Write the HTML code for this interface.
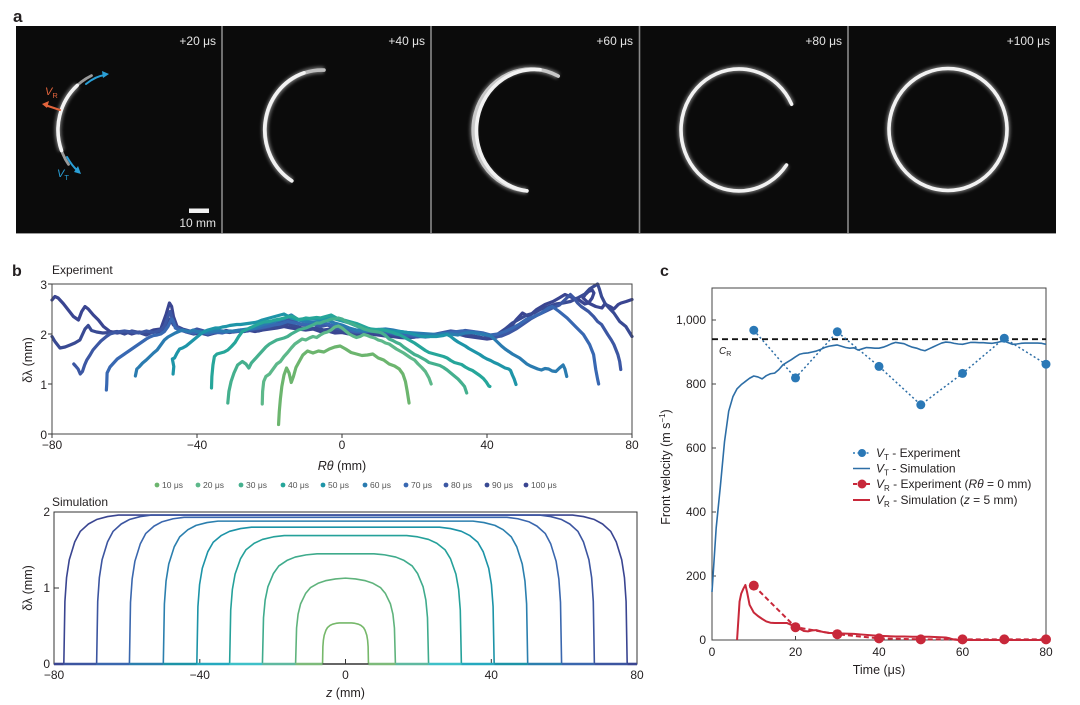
<!DOCTYPE html>
<html><head><meta charset="utf-8"><style>
html,body{margin:0;padding:0;background:#fff}
svg{display:block}
text{font-family:"Liberation Sans",Arial,sans-serif;fill:#231f20}
.e{fill:none;stroke-width:3.2;stroke-linejoin:round;stroke-linecap:round;vector-effect:non-scaling-stroke}
.s{fill:none;stroke-width:1.6;stroke-linejoin:round;vector-effect:non-scaling-stroke}
.b{fill:none;stroke-width:2.6;vector-effect:non-scaling-stroke}
.ns{vector-effect:non-scaling-stroke}
</style></head><body>
<svg width="1080" height="705" viewBox="0 0 1080 705" xmlns="http://www.w3.org/2000/svg">
<defs>
<filter id="gl" x="-20%" y="-20%" width="140%" height="140%"><feGaussianBlur stdDeviation="1.6"/></filter>
</defs>
<rect width="1080" height="705" fill="#fff"/>

<!-- ===== Panel a ===== -->
<text x="13" y="22" font-size="17" font-weight="bold">a</text>
<rect x="16" y="26" width="1040" height="208" fill="#0b0b0b"/>
<g stroke="#8a8a8a" stroke-width="1.6">
<line x1="222" y1="26" x2="222" y2="234"/><line x1="431" y1="26" x2="431" y2="234"/>
<line x1="639.5" y1="26" x2="639.5" y2="234"/><line x1="848" y1="26" x2="848" y2="234"/>
</g>
<line x1="16" y1="233.5" x2="1056" y2="233.5" stroke="#9a9a9a" stroke-width="1"/>
<g font-size="12" text-anchor="end">
<text x="216" y="45" style="fill:#e4e4e4">+20 μs</text>
<text x="425" y="45" style="fill:#e4e4e4">+40 μs</text>
<text x="633" y="45" style="fill:#e4e4e4">+60 μs</text>
<text x="842" y="45" style="fill:#e4e4e4">+80 μs</text>
<text x="1050" y="45" style="fill:#e4e4e4">+100 μs</text>
<text x="216" y="227" style="fill:#e4e4e4">10 mm</text>
</g>
<rect x="189" y="208.5" width="20" height="4.5" fill="#f2f2f2"/>
<!-- rings: glow -->
<g fill="none" stroke="#ffffff" stroke-width="6.5" opacity="0.4" filter="url(#gl)">
<path d="M61.5,150.5 A58,60 0 0 1 77.2,85.4"/>
<path d="M291.8,180.9 A57,60 0 0 1 324,70.1"/>
<path d="M526.9,190.9 A58,61 0 1 1 558.2,76.1"/>
<path d="M786.5,165 A58,61 0 1 1 791.6,104.2"/>
<ellipse cx="948" cy="129.5" rx="59" ry="61"/>
</g>
<g fill="none" stroke="#f2f2f2" stroke-width="3.6" stroke-linecap="round">
<path d="M68.5,164.4 A58,60 0 0 1 91.5,75.6" stroke="#9a9a9a" stroke-width="2.8"/>
<path d="M61.5,150.5 A58,60 0 0 1 77.2,85.4"/>
<path d="M291.8,180.9 A57,60 0 0 1 324,70.1" stroke="#bdbdbd"/>
<path d="M291.8,180.9 A57,60 0 0 1 304,72.8"/>
<path d="M526.9,190.9 A58,61 0 1 1 558.2,76.1" stroke="#c8c8c8"/>
<path d="M526.9,190.9 A58,61 0 0 1 540,69.7"/>
<path d="M786.5,165 A58,61 0 1 1 791.6,104.2"/>
<ellipse cx="948" cy="129.5" rx="59" ry="61"/>
</g>
<!-- arrows panel 1 -->
<g fill="none" stroke-width="2" stroke-linecap="round">
<path d="M86,84 Q96,76 105,75" stroke="#2a9fd6"/>
<path d="M67,157 Q72,166 78,171" stroke="#2a9fd6"/>
<path d="M60,110 L45,105" stroke="#e2643c"/>
</g>
<polygon points="109,74 102,71 103,78" fill="#2a9fd6"/>
<polygon points="81,174 78,166 74,172" fill="#2a9fd6"/>
<polygon points="42,104 49,101 47,108" fill="#e2643c"/>
<text x="45" y="95" font-size="11" font-style="italic" style="fill:#e2643c">V<tspan font-size="7.5" font-style="normal" dy="3" style="fill:#e2643c">R</tspan></text>
<text x="57" y="177" font-size="11" font-style="italic" style="fill:#2a9fd6">V<tspan font-size="7.5" font-style="normal" dy="3" style="fill:#2a9fd6">T</tspan></text>

<!-- ===== Panel b (Experiment) ===== -->
<text x="12" y="276" font-size="16" font-weight="bold">b</text>
<text x="52" y="274" font-size="12">Experiment</text>
<g font-size="12" text-anchor="end">
<text x="47" y="289">3</text><text x="47" y="339">2</text><text x="47" y="389">1</text><text x="47" y="439">0</text>
</g>
<g font-size="12" text-anchor="middle">
<text x="52" y="449">−80</text><text x="197" y="449">−40</text><text x="342" y="449">0</text><text x="487" y="449">40</text><text x="632" y="449">80</text>
</g>
<text x="342" y="470" font-size="12.5" text-anchor="middle"><tspan font-style="italic">Rθ</tspan> (mm)</text>
<text transform="translate(32,360) rotate(-90)" font-size="12.5" text-anchor="middle">δλ (mm)</text>
<g stroke="#333" stroke-width="1">
<line x1="48" y1="284" x2="52" y2="284"/><line x1="48" y1="334" x2="52" y2="334"/><line x1="48" y1="384" x2="52" y2="384"/><line x1="48" y1="434" x2="52" y2="434"/>
<line x1="52" y1="434" x2="52" y2="438"/><line x1="197" y1="434" x2="197" y2="438"/><line x1="342" y1="434" x2="342" y2="438"/><line x1="487" y1="434" x2="487" y2="438"/><line x1="632" y1="434" x2="632" y2="438"/>
</g>
<g transform="translate(342,434) scale(3.625,-50)">
<polyline class="e" stroke="#3a4591" points="-80,2.68 -79.2,2.75 -78.3,2.72 -76.9,2.61 -75.5,2.48 -74.1,2.35 -72.7,2.28 -71.8,2.45 -70.9,2.55 -70,2.5 -68.6,2.38 -67.2,2.28 -65.8,2.15 -64,2.05 -62,2.02 -60,2.05 -58,2 -56,2.04 -54,2.02 -52,2.08 -50,2.1 -48.5,2.4 -47.6,2.62 -47,2.55 -46.5,2.35 -45.5,2.15 -44,2.1 -42,2.06 -40,2.04 -38,2 -36,2.05 -34,2.03 -32,2.07 -30,2.04 -28,2.06 -26,2.08 -24,2.05 -22,2.08 -20,2.1 -18,2.12 -16,2.15 -14,2.12 -12,2.1 -10,2.08 -8,2.1 -6,2.05 -4,2.06 -2,2.02 0,2.03 2,2 4,1.98 6,2.02 8,2 10,1.98 12,1.96 14,1.95 16,1.93 18,1.92 20,1.94 22,1.96 24,1.95 26,1.97 28,2 30,2.02 32,2 34,1.96 36,1.94 38,1.92 40,1.9 42,1.92 44,1.98 46,2.08 48,2.28 49.8,2.42 51.5,2.35 53.7,2.49 56,2.59 58.2,2.65 59.9,2.72 61.5,2.79 63.8,2.72 65,2.7 66,2.65 67,2.6 68,2.62 69,2.72 69.5,2.82 69,2.88 68,2.85 67,2.78 66.5,2.72 68,2.62 70,2.55 71.7,2.52 72.5,2.6 73.9,2.55 75,2.5 76.2,2.59 77,2.62 78.4,2.65 80,2.69"/>
<polyline class="e" stroke="#394a93" points="-80,1.95 -79.2,1.85 -77.8,1.72 -76.4,1.74 -75,1.78 -73.7,1.82 -72.3,1.88 -70.9,2.1 -70,2.17 -69.1,2.07 -67.7,2.04 -66,2.02 -64,2.03 -62,2.05 -60,2 -58,2.06 -56,2.03 -54,1.98 -52,2.05 -50,2.02 -48,2.2 -47.4,2.3 -46.5,2.18 -45,2.1 -43,2.04 -41,2 -39,2.02 -37,1.98 -35,2.02 -33,2.05 -31,2.03 -29,2.06 -27,2.05 -25,2.08 -23,2.06 -21,2.1 -19,2.13 -17,2.15 -15,2.2 -13,2.16 -11,2.12 -9,2.1 -7,2.12 -5,2.08 -3,2.1 -1,2.06 1,2.04 3,2 5,2.02 7,2.05 9,2.02 11,2 13,1.98 15,1.97 17,1.95 19,1.93 21,1.95 23,1.98 25,1.96 27,1.98 29,2 31,2.02 33,2 35,1.98 37,1.95 39,1.92 41,1.95 43,2 45,2.1 47,2.22 49,2.3 51,2.38 53,2.42 55,2.5 57,2.55 59,2.6 61,2.62 63,2.65 65,2.72 67,2.8 68.3,2.9 69.4,2.95 70.5,3 71,2.9 71.6,2.75 72.5,2.62 73.3,2.55 75,2.42 76.6,2.25 78.3,2.15 80,1.95"/>
<polyline class="e" stroke="#3c57a3" points="-74,1.4 -73.5,1.36 -72.8,1.3 -72.2,1.2 -71.6,1.25 -71,1.38 -70.4,1.48 -69.5,1.58 -68.7,1.68 -67.5,1.78 -66.5,1.86 -65,1.95 -64,2 -62,2.04 -60,2.06 -58,2.04 -56,2.02 -54,2.06 -52,2.03 -50,2.08 -49,2.15 -48,2.35 -47.4,2.45 -46.8,2.3 -46,2.15 -44,2.08 -42,2.05 -40,2.1 -38,2.06 -36,2.02 -34,2.06 -32,2.04 -30,2.05 -28,2.08 -26,2.06 -24,2.1 -22,2.12 -20,2.15 -18,2.2 -16,2.25 -14,2.3 -12,2.2 -10,2.18 -8,2.2 -6,2.15 -4,2.18 -2,2.12 0,2.1 2,2.06 4,2.03 6,2.05 8,2.08 10,2.05 12,2.02 14,2 16,1.98 18,1.96 20,1.94 22,1.95 24,1.97 26,2 28,2.03 30,2.06 32,2.04 34,2.07 36,2.05 38,2.02 40,1.97 42,1.94 44,1.96 46,2.02 48,2.1 50,2.2 52,2.3 54,2.38 56,2.45 58,2.52 60,2.58 62,2.72 63,2.79 64,2.72 65,2.62 66,2.55 67,2.5 68,2.45 69.4,2.35 70.5,2.25 71.6,2.19 73.3,1.99 74.3,1.88 75,1.79 76.1,1.59 76.6,1.45 76.9,1.29"/>
<polyline class="e" stroke="#3868b2" points="-65,0.88 -64.9,1 -64.8,1.22 -64,1.34 -63,1.42 -62,1.5 -61,1.55 -60,1.6 -59,1.65 -58,1.7 -57,1.75 -56,1.8 -55,1.85 -54,1.9 -53,1.94 -52,1.97 -51,1.98 -50,2 -49,2.05 -48,2.15 -47,2.3 -46.5,2.25 -46,2.12 -45,2.08 -43,2.05 -41,2.02 -39,2.05 -37,2 -35,2.04 -33,2.02 -31,2.06 -29,2.05 -27,2.08 -25,2.1 -23,2.12 -21,2.15 -19,2.18 -17,2.2 -15,2.25 -13,2.22 -11,2.2 -9,2.18 -7,2.2 -5,2.22 -3,2.18 -1,2.14 1,2.1 3,2.06 5,2.04 7,2.05 9,2.06 11,2.05 13,2.03 15,2 17,1.98 19,1.98 21,1.96 23,1.94 25,1.96 27,1.98 29,2.02 31,2.04 33,2.06 35,2.05 37,2.04 39,2.02 41,1.98 43,2 45,2.05 47,2.12 49,2.2 51,2.3 53,2.35 55,2.42 57,2.52 58,2.55 59.9,2.45 62.1,2.32 64.4,2.15 66.6,1.99 68.3,1.79 69.4,1.59 70,1.29 70.5,1.1 70.8,1"/>
<polyline class="e" stroke="#2a7bb0" points="-57,1.16 -56.6,1.3 -56,1.34 -55,1.42 -54,1.48 -53,1.55 -52,1.62 -51,1.68 -50,1.78 -49,1.88 -48,1.94 -47,1.98 -46,2.02 -45,2.05 -44,2.08 -43,2.06 -42,2.05 -41,2.08 -40,2.05 -38,2.03 -36,2.05 -34,2.07 -32,2.05 -30,2.06 -28,2.08 -26,2.1 -24,2.12 -22,2.18 -20,2.22 -18,2.26 -16,2.3 -15,2.35 -14,2.38 -13,2.33 -12,2.28 -10,2.25 -8,2.24 -6,2.25 -4,2.27 -2,2.22 0,2.18 2,2.12 4,2.08 6,2.06 8,2.07 10,2.09 12,2.1 14,2.08 16,2.05 18,2.03 20,2.02 22,2.01 24,2 26,1.99 28,2.01 30,2 32,1.98 34,2.02 36,2.03 38,2 40,1.98 41,1.96 42,1.9 43,1.83 44,1.76 45,1.7 46,1.65 47,1.6 48,1.56 49,1.52 50,1.46 51,1.4 52,1.36 53,1.33 54,1.3 55,1.28 56,1.31 57,1.3 58,1.26 59,1.25 60,1.32 61,1.38 61.5,1.3 62,1.15"/>
<polyline class="e" stroke="#1e95a8" points="-46.6,1.2 -46.4,1.35 -46.8,1.5 -46.2,1.52 -45.5,1.62 -44.8,1.7 -44,1.72 -43,1.76 -42,1.82 -41,1.88 -40,1.94 -39,2 -38,2.05 -37,2.08 -36,2.1 -35,2.12 -34,2.12 -33,2.14 -32,2.15 -31,2.17 -30,2.18 -29,2.19 -28,2.19 -27,2.2 -26,2.21 -25,2.22 -24,2.23 -23,2.25 -22,2.28 -21,2.3 -20,2.32 -19,2.34 -18,2.36 -17,2.38 -16,2.4 -15,2.36 -14,2.32 -13,2.3 -12,2.28 -10,2.3 -8,2.31 -6,2.3 -4,2.33 -3,2.35 -2,2.3 0,2.26 2,2.22 4,2.16 6,2.1 8,2.09 10,2.09 12,2.08 14,2.05 16,2.05 18,2.03 20,1.99 22,1.95 24,1.95 26,1.95 28,1.97 29,1.99 30,1.95 31,1.89 32,1.84 33,1.8 34,1.76 35,1.71 36,1.67 37,1.63 38,1.59 39,1.54 40,1.5 41,1.47 42,1.43 43,1.4 44,1.36 45,1.32 46,1.3 46.5,1.27 47,1.18 47.5,1.1 48,0.99"/>
<polyline class="e" stroke="#26a69a" points="-36,0.92 -35.9,1.15 -35.6,1.38 -35.2,1.55 -34.5,1.6 -33.5,1.62 -32.5,1.64 -31.5,1.68 -30.5,1.75 -29.5,1.83 -28.5,1.95 -27.5,2.05 -26.5,2.08 -25.5,2.12 -24.5,2.15 -23,2.2 -21.5,2.24 -20,2.25 -18.5,2.28 -17,2.3 -15.5,2.33 -14,2.36 -13,2.33 -12,2.29 -11,2.3 -10,2.32 -9,2.31 -8,2.32 -7,2.33 -6,2.32 -5,2.34 -4,2.36 -3,2.38 -2,2.34 -1,2.3 0,2.28 1,2.27 2,2.25 3,2.23 4,2.21 5,2.18 6,2.15 7,2.12 8,2.1 9,2.09 10,2.08 11,2.09 12,2.07 13,2.05 14,2.03 15,2 16,1.98 17,1.94 18,1.9 19,1.86 20,1.82 21,1.77 22,1.72 23,1.67 24,1.63 25,1.61 26,1.59 27,1.57 28,1.55 29,1.52 30,1.47 31,1.43 32,1.41 33,1.39 34,1.34 35,1.3 36,1.27 37,1.22 38,1.17 39,1.11 39.8,1.04 40.5,0.96 40.8,0.95"/>
<polyline class="e" stroke="#45b08e" points="-31.5,0.62 -31.2,0.85 -30.6,1.05 -29.8,1.22 -28.8,1.38 -27.5,1.45 -26.5,1.4 -25.7,1.32 -25,1.42 -24,1.5 -23,1.58 -22,1.66 -21,1.74 -20,1.8 -19,1.84 -18,1.88 -17,1.9 -16,1.92 -15,1.95 -14,2 -13,2.04 -12,2.08 -11,2.1 -10,2.12 -9,2.15 -8,2.18 -7,2.22 -6,2.22 -5,2.25 -4,2.27 -3,2.3 -2,2.3 -1,2.32 0,2.3 1,2.25 2,2.22 3,2.2 4,2.16 5,2.14 6,2.1 7,2.08 8,2.06 9,2.05 10,2.04 11,2.02 12,1.97 13,1.9 14,1.87 15,1.83 16,1.8 17,1.74 18,1.69 19,1.64 20,1.59 21,1.56 22,1.52 23,1.48 24,1.43 25,1.41 26,1.39 27,1.37 28,1.33 29,1.28 30,1.22 31,1.16 32,1.1 33,1.02 33.8,0.95 34.4,0.82"/>
<polyline class="e" stroke="#5db88a" points="-22,0.6 -21.9,0.85 -21.6,1.05 -21,1.15 -20,1.2 -19,1.3 -18,1.4 -17,1.45 -16,1.55 -15,1.63 -14,1.72 -13,1.8 -12,1.85 -11,1.9 -10,1.88 -9,1.92 -8,1.95 -7,1.93 -6,1.98 -5,2.02 -4,2.04 -3,2.08 -2,2.14 -1,2.16 0,2.12 1,2.06 2,2 3,1.96 4,1.93 5,1.95 6,1.99 7,1.97 8,1.94 9,1.92 10,1.88 11,1.86 12,1.82 13,1.8 14,1.75 15,1.7 16,1.66 17,1.62 18,1.57 19,1.52 20,1.48 21,1.4 22,1.33 23,1.25 24,1.12 24.6,1"/>
<polyline class="e" stroke="#6cb56e" points="-17.5,0.19 -17.3,0.45 -17,0.7 -16.6,0.95 -16,1.18 -15.3,1.32 -14.6,1.22 -14,1.03 -13.4,1.15 -12.7,1.33 -11.8,1.45 -10.8,1.58 -9.5,1.66 -8,1.62 -6.5,1.66 -5,1.64 -3.5,1.7 -2,1.74 -0.5,1.76 1,1.7 2.5,1.63 4,1.6 5.5,1.57 7,1.58 8.5,1.6 10,1.52 11.5,1.48 13,1.4 14.5,1.36 15.8,1.3 16.8,1.2 17.5,1.05 18,0.85 18.5,0.62"/>
</g>
<rect x="52" y="284" width="580" height="150" fill="none" stroke="#444" stroke-width="1"/>

<!-- legend row -->
<g font-size="8.5">
<circle cx="157" cy="485" r="2.4" fill="#6cb56e"/><text x="162" y="488" style="fill:#555">10 μs</text>
<circle cx="198" cy="485" r="2.4" fill="#5db88a"/><text x="203" y="488" style="fill:#555">20 μs</text>
<circle cx="241" cy="485" r="2.4" fill="#45b08e"/><text x="246" y="488" style="fill:#555">30 μs</text>
<circle cx="283" cy="485" r="2.4" fill="#26a69a"/><text x="288" y="488" style="fill:#555">40 μs</text>
<circle cx="323" cy="485" r="2.4" fill="#1e95a8"/><text x="328" y="488" style="fill:#555">50 μs</text>
<circle cx="365" cy="485" r="2.4" fill="#2a7bb0"/><text x="370" y="488" style="fill:#555">60 μs</text>
<circle cx="406" cy="485" r="2.4" fill="#3868b2"/><text x="411" y="488" style="fill:#555">70 μs</text>
<circle cx="446" cy="485" r="2.4" fill="#3c57a3"/><text x="451" y="488" style="fill:#555">80 μs</text>
<circle cx="487" cy="485" r="2.4" fill="#394a93"/><text x="492" y="488" style="fill:#555">90 μs</text>
<circle cx="526" cy="485" r="2.4" fill="#3a4591"/><text x="531" y="488" style="fill:#555">100 μs</text>
</g>

<!-- ===== Panel b (Simulation) ===== -->
<text x="52" y="506" font-size="12">Simulation</text>
<g font-size="12" text-anchor="end">
<text x="50" y="516">2</text><text x="50" y="592">1</text><text x="50" y="668">0</text>
</g>
<g font-size="12" text-anchor="middle">
<text x="54" y="679">−80</text><text x="199.8" y="679">−40</text><text x="345.5" y="679">0</text><text x="491.3" y="679">40</text><text x="637" y="679">80</text>
</g>
<text x="345.5" y="697" font-size="12.5" text-anchor="middle"><tspan font-style="italic">z</tspan> (mm)</text>
<text transform="translate(32,588) rotate(-90)" font-size="12.5" text-anchor="middle">δλ (mm)</text>
<rect x="54" y="512" width="583" height="152" fill="none" stroke="#333" stroke-width="1"/>
<g stroke="#333" stroke-width="1">
<line x1="54" y1="588" x2="59" y2="588"/><line x1="54" y1="512" x2="59" y2="512"/>
<line x1="199.8" y1="664" x2="199.8" y2="659"/><line x1="345.5" y1="664" x2="345.5" y2="659"/><line x1="491.3" y1="664" x2="491.3" y2="659"/>
</g>
<g transform="translate(345.5,664) scale(3.644,-76)">
<polyline class="s" stroke="#3a4591" points="-77.3,0 -77,0.823 -76.55,1.137 -75.8,1.372 -74.3,1.607 -72.8,1.744 -70.55,1.842 -68.3,1.901 -65.3,1.94 -62.3,1.96 62.3,1.96 65.3,1.94 68.3,1.901 70.55,1.842 72.8,1.744 74.3,1.607 75.8,1.372 76.55,1.137 77,0.823 77.3,0"/>
<polyline class="s" stroke="#3c55a0" points="-68.3,0 -68,0.823 -67.55,1.137 -66.8,1.372 -65.3,1.607 -63.8,1.744 -61.55,1.842 -59.3,1.901 -56.3,1.94 -53.3,1.96 53.3,1.96 56.3,1.94 59.3,1.901 61.55,1.842 63.8,1.744 65.3,1.607 66.8,1.372 67.55,1.137 68,0.823 68.3,0"/>
<polyline class="s" stroke="#3a67ae" points="-59.3,0 -59,0.811 -58.55,1.119 -57.8,1.351 -56.3,1.583 -54.8,1.718 -52.55,1.814 -50.3,1.872 -47.3,1.911 -44.3,1.93 44.3,1.93 47.3,1.911 50.3,1.872 52.55,1.814 54.8,1.718 56.3,1.583 57.8,1.351 58.55,1.119 59,0.811 59.3,0"/>
<polyline class="s" stroke="#2b7fae" points="-50,0 -49.7,0.79 -49.25,1.09 -48.5,1.316 -47,1.542 -45.5,1.673 -43.25,1.767 -41,1.824 -38,1.861 -35,1.88 35,1.88 38,1.861 41,1.824 43.25,1.767 45.5,1.673 47,1.542 48.5,1.316 49.25,1.09 49.7,0.79 50,0"/>
<polyline class="s" stroke="#1c93a7" points="-40.8,0 -40.5,0.756 -40.05,1.044 -39.3,1.26 -37.8,1.476 -36.3,1.602 -34.05,1.692 -31.8,1.746 -28.8,1.782 -25.8,1.8 25.8,1.8 28.8,1.782 31.8,1.746 34.05,1.692 36.3,1.602 37.8,1.476 39.3,1.26 40.05,1.044 40.5,0.756 40.8,0"/>
<polyline class="s" stroke="#25a19a" points="-31.8,0 -31.5,0.71 -31.05,0.98 -30.3,1.183 -28.8,1.386 -27.3,1.504 -25.05,1.589 -22.8,1.639 -19.8,1.673 -16.8,1.69 16.8,1.69 19.8,1.673 22.8,1.639 25.05,1.589 27.3,1.504 28.8,1.386 30.3,1.183 31.05,0.98 31.5,0.71 31.8,0"/>
<polyline class="s" stroke="#3fab8c" points="-22.8,0 -22.5,0.609 -22.05,0.841 -21.3,1.015 -19.8,1.189 -18.3,1.29 -16.05,1.363 -13.8,1.407 -10.8,1.436 -7.8,1.45 7.8,1.45 10.8,1.436 13.8,1.407 16.05,1.363 18.3,1.29 19.8,1.189 21.3,1.015 22.05,0.841 22.5,0.609 22.8,0"/>
<polyline class="s" stroke="#5fb37c" points="-13.7,0 -13.426,0.475 -13.015,0.655 -12.33,0.791 -10.96,0.927 -9.59,1.006 -7.535,1.062 -5.48,1.096 -2.74,1.119 0,1.13 2.74,1.119 5.48,1.096 7.535,1.062 9.59,1.006 10.96,0.927 12.33,0.791 13.015,0.655 13.426,0.475 13.7,0"/>
<polyline class="s" stroke="#76b86a" points="-6.3,0 -6.208,0.227 -6.07,0.313 -5.84,0.378 -5.38,0.443 -4.92,0.481 -4.23,0.508 -3.54,0.524 -2.62,0.535 -1.7,0.54 1.7,0.54 2.62,0.535 3.54,0.524 4.23,0.508 4.92,0.481 5.38,0.443 5.84,0.378 6.07,0.313 6.208,0.227 6.3,0"/>
<!-- baseline segments -->
<polyline class="b" stroke="#3a4591" points="-80,0 -77.3,0"/><polyline class="b" stroke="#3a4591" points="77.3,0 80,0"/>
<polyline class="b" stroke="#3c55a0" points="-77.3,0 -68.3,0"/><polyline class="b" stroke="#3c55a0" points="68.3,0 77.3,0"/>
<polyline class="b" stroke="#3a67ae" points="-68.3,0 -59.3,0"/><polyline class="b" stroke="#3a67ae" points="59.3,0 68.3,0"/>
<polyline class="b" stroke="#2b7fae" points="-59.3,0 -50,0"/><polyline class="b" stroke="#2b7fae" points="50,0 59.3,0"/>
<polyline class="b" stroke="#1c93a7" points="-50,0 -40.8,0"/><polyline class="b" stroke="#1c93a7" points="40.8,0 50,0"/>
<polyline class="b" stroke="#25a9bf" points="-40.8,0 -31.8,0"/><polyline class="b" stroke="#25a9bf" points="31.8,0 40.8,0"/>
<polyline class="b" stroke="#3ec0c8" points="-31.8,0 -22.8,0"/><polyline class="b" stroke="#3ec0c8" points="22.8,0 31.8,0"/>
<polyline class="b" stroke="#5fb9a0" points="-22.8,0 -13.7,0"/><polyline class="b" stroke="#5fb9a0" points="13.7,0 22.8,0"/>
<polyline class="b" stroke="#7dba7a" points="-13.7,0 -6.3,0"/><polyline class="b" stroke="#7dba7a" points="6.3,0 13.7,0"/>
<polyline class="b" stroke="#333" points="-6.3,0 6.3,0" style="stroke-width:1.6"/>
</g>

<!-- ===== Panel c ===== -->
<text x="660" y="276" font-size="16" font-weight="bold">c</text>
<rect x="712" y="288" width="334" height="352" fill="none" stroke="#444" stroke-width="1"/>
<g font-size="12" text-anchor="end">
<text x="706" y="644">0</text><text x="706" y="580">200</text><text x="706" y="516">400</text>
<text x="706" y="452">600</text><text x="706" y="388">800</text><text x="706" y="324">1,000</text>
</g>
<g font-size="12" text-anchor="middle">
<text x="712" y="656">0</text><text x="795.5" y="656">20</text><text x="879" y="656">40</text><text x="962.5" y="656">60</text><text x="1046" y="656">80</text>
</g>
<text x="879" y="674" font-size="12.5" text-anchor="middle">Time (μs)</text>
<text transform="translate(670,467) rotate(-90)" font-size="12.5" text-anchor="middle">Front velocity (m s<tspan font-size="8" dy="-5">−1</tspan><tspan dy="5">)</tspan></text>
<g stroke="#444" stroke-width="1">
<line x1="712" y1="640" x2="716" y2="640"/><line x1="712" y1="576" x2="716" y2="576"/><line x1="712" y1="512" x2="716" y2="512"/><line x1="712" y1="448" x2="716" y2="448"/><line x1="712" y1="384" x2="716" y2="384"/><line x1="712" y1="320" x2="716" y2="320"/>
<line x1="795.5" y1="640" x2="795.5" y2="636"/><line x1="879" y1="640" x2="879" y2="636"/><line x1="962.5" y1="640" x2="962.5" y2="636"/>
</g>
<line x1="712" y1="339.2" x2="1046" y2="339.2" stroke="#111" stroke-width="1.8" stroke-dasharray="6,4"/>
<text x="719" y="354" font-size="10" font-style="italic">C<tspan font-size="7" font-style="normal" dy="2">R</tspan></text>
<g transform="translate(712,640) scale(4.175,-0.32)">
<polyline class="ns" fill="none" stroke="#2d6ea6" stroke-width="1.6" stroke-linejoin="round" points="0,150 1,350 2,480 3,620 4,715 5,760 6,785 7,798 8,808 9,818 10,825 11,822 12,816 13,826 14,832 15,834 16,845 17,860 18,868 19,876 20,885 21,893 22,896 23,897 24,900 25,903 26,908 27,914 28,918 29,920 30,922 31,918 32,914 33,912 34,913 35,906 36,910 37,914 38,913 39,912 40,912 41,915 42,920 43,926 44,930 45,928 46,926 47,920 48,915 49,912 50,907 51,904 52,910 53,916 54,922 55,928 56,931 57,930 58,927 59,925 60,924 61,927 62,930 63,930 64,929 65,929 66,928 67,927 68,929 69,932 70,934 71,929 72,924 73,925 74,927 75,928 76,928 77,928 78,928 79,927 80,924"/>
<polyline class="ns" fill="none" stroke="#2d6ea6" stroke-width="1.5" stroke-dasharray="2,2.5" points="10,968 20,819 30,963 40,855 50,735 60,833 70,943 80,862"/>
<polyline class="ns" fill="none" stroke="#c8283a" stroke-width="2" stroke-linejoin="round" points="6,0 6.6,120 7,145 7.5,160 8,172 8.4,150 9,110 10,86 11,75 12,66 13,58 14,54 15,53 16,53 17,53 18,53 19,47 20,41 21,35 22,28 23,27 24,30 25,31 26,27 27,24 28,22 29,22 30,21 32,20 34,19 36,17 38,15 40,13 42,12 44,11 46,11 48,10 50,10 52,10 54,9 56,8 57,5 58,1 59,0 80,0"/>
<polyline class="ns" fill="none" stroke="#c8283a" stroke-width="2" stroke-dasharray="5,3" points="10,170 20,40 30,18 40,5 50,2 60,2 70,2 80,2"/>
</g>
<g fill="#2a78b6">
<circle cx="753.8" cy="330.2" r="4.5"/><circle cx="795.5" cy="377.9" r="4.5"/><circle cx="837.3" cy="331.8" r="4.5"/><circle cx="879" cy="366.4" r="4.5"/>
<circle cx="920.8" cy="404.8" r="4.5"/><circle cx="962.5" cy="373.4" r="4.5"/><circle cx="1004.3" cy="338.2" r="4.5"/><circle cx="1046" cy="364.2" r="4.5"/>
</g>
<g fill="#c8283a">
<circle cx="753.8" cy="585.6" r="5"/><circle cx="795.5" cy="627.2" r="5"/><circle cx="837.3" cy="634.2" r="5"/><circle cx="879" cy="638.4" r="5"/>
<circle cx="920.8" cy="639.4" r="5"/><circle cx="962.5" cy="639.4" r="5"/><circle cx="1004.3" cy="639.4" r="5"/><circle cx="1046" cy="639.4" r="5"/>
</g>
<!-- legend c -->
<line x1="853" y1="453" x2="870" y2="453" stroke="#2a78b6" stroke-width="1.5" stroke-dasharray="2,2.5"/><circle cx="862" cy="453" r="4" fill="#2a78b6"/>
<line x1="853" y1="468.5" x2="870" y2="468.5" stroke="#2d6ea6" stroke-width="1.6"/>
<line x1="853" y1="484" x2="870" y2="484" stroke="#c8283a" stroke-width="2" stroke-dasharray="4,2.5"/><circle cx="862" cy="484" r="4.5" fill="#c8283a"/>
<line x1="853" y1="500" x2="870" y2="500" stroke="#c8283a" stroke-width="2"/>
<g font-size="12">
<text x="876" y="457"><tspan font-style="italic">V</tspan><tspan font-size="8" dy="3">T</tspan><tspan dy="-3"> - Experiment</tspan></text>
<text x="876" y="472.5"><tspan font-style="italic">V</tspan><tspan font-size="8" dy="3">T</tspan><tspan dy="-3"> - Simulation</tspan></text>
<text x="876" y="488"><tspan font-style="italic">V</tspan><tspan font-size="8" dy="3">R</tspan><tspan dy="-3"> - Experiment (</tspan><tspan font-style="italic">Rθ</tspan><tspan> = 0 mm)</tspan></text>
<text x="876" y="504"><tspan font-style="italic">V</tspan><tspan font-size="8" dy="3">R</tspan><tspan dy="-3"> - Simulation (</tspan><tspan font-style="italic">z</tspan><tspan> = 5 mm)</tspan></text>
</g>
</svg>
</body></html>
